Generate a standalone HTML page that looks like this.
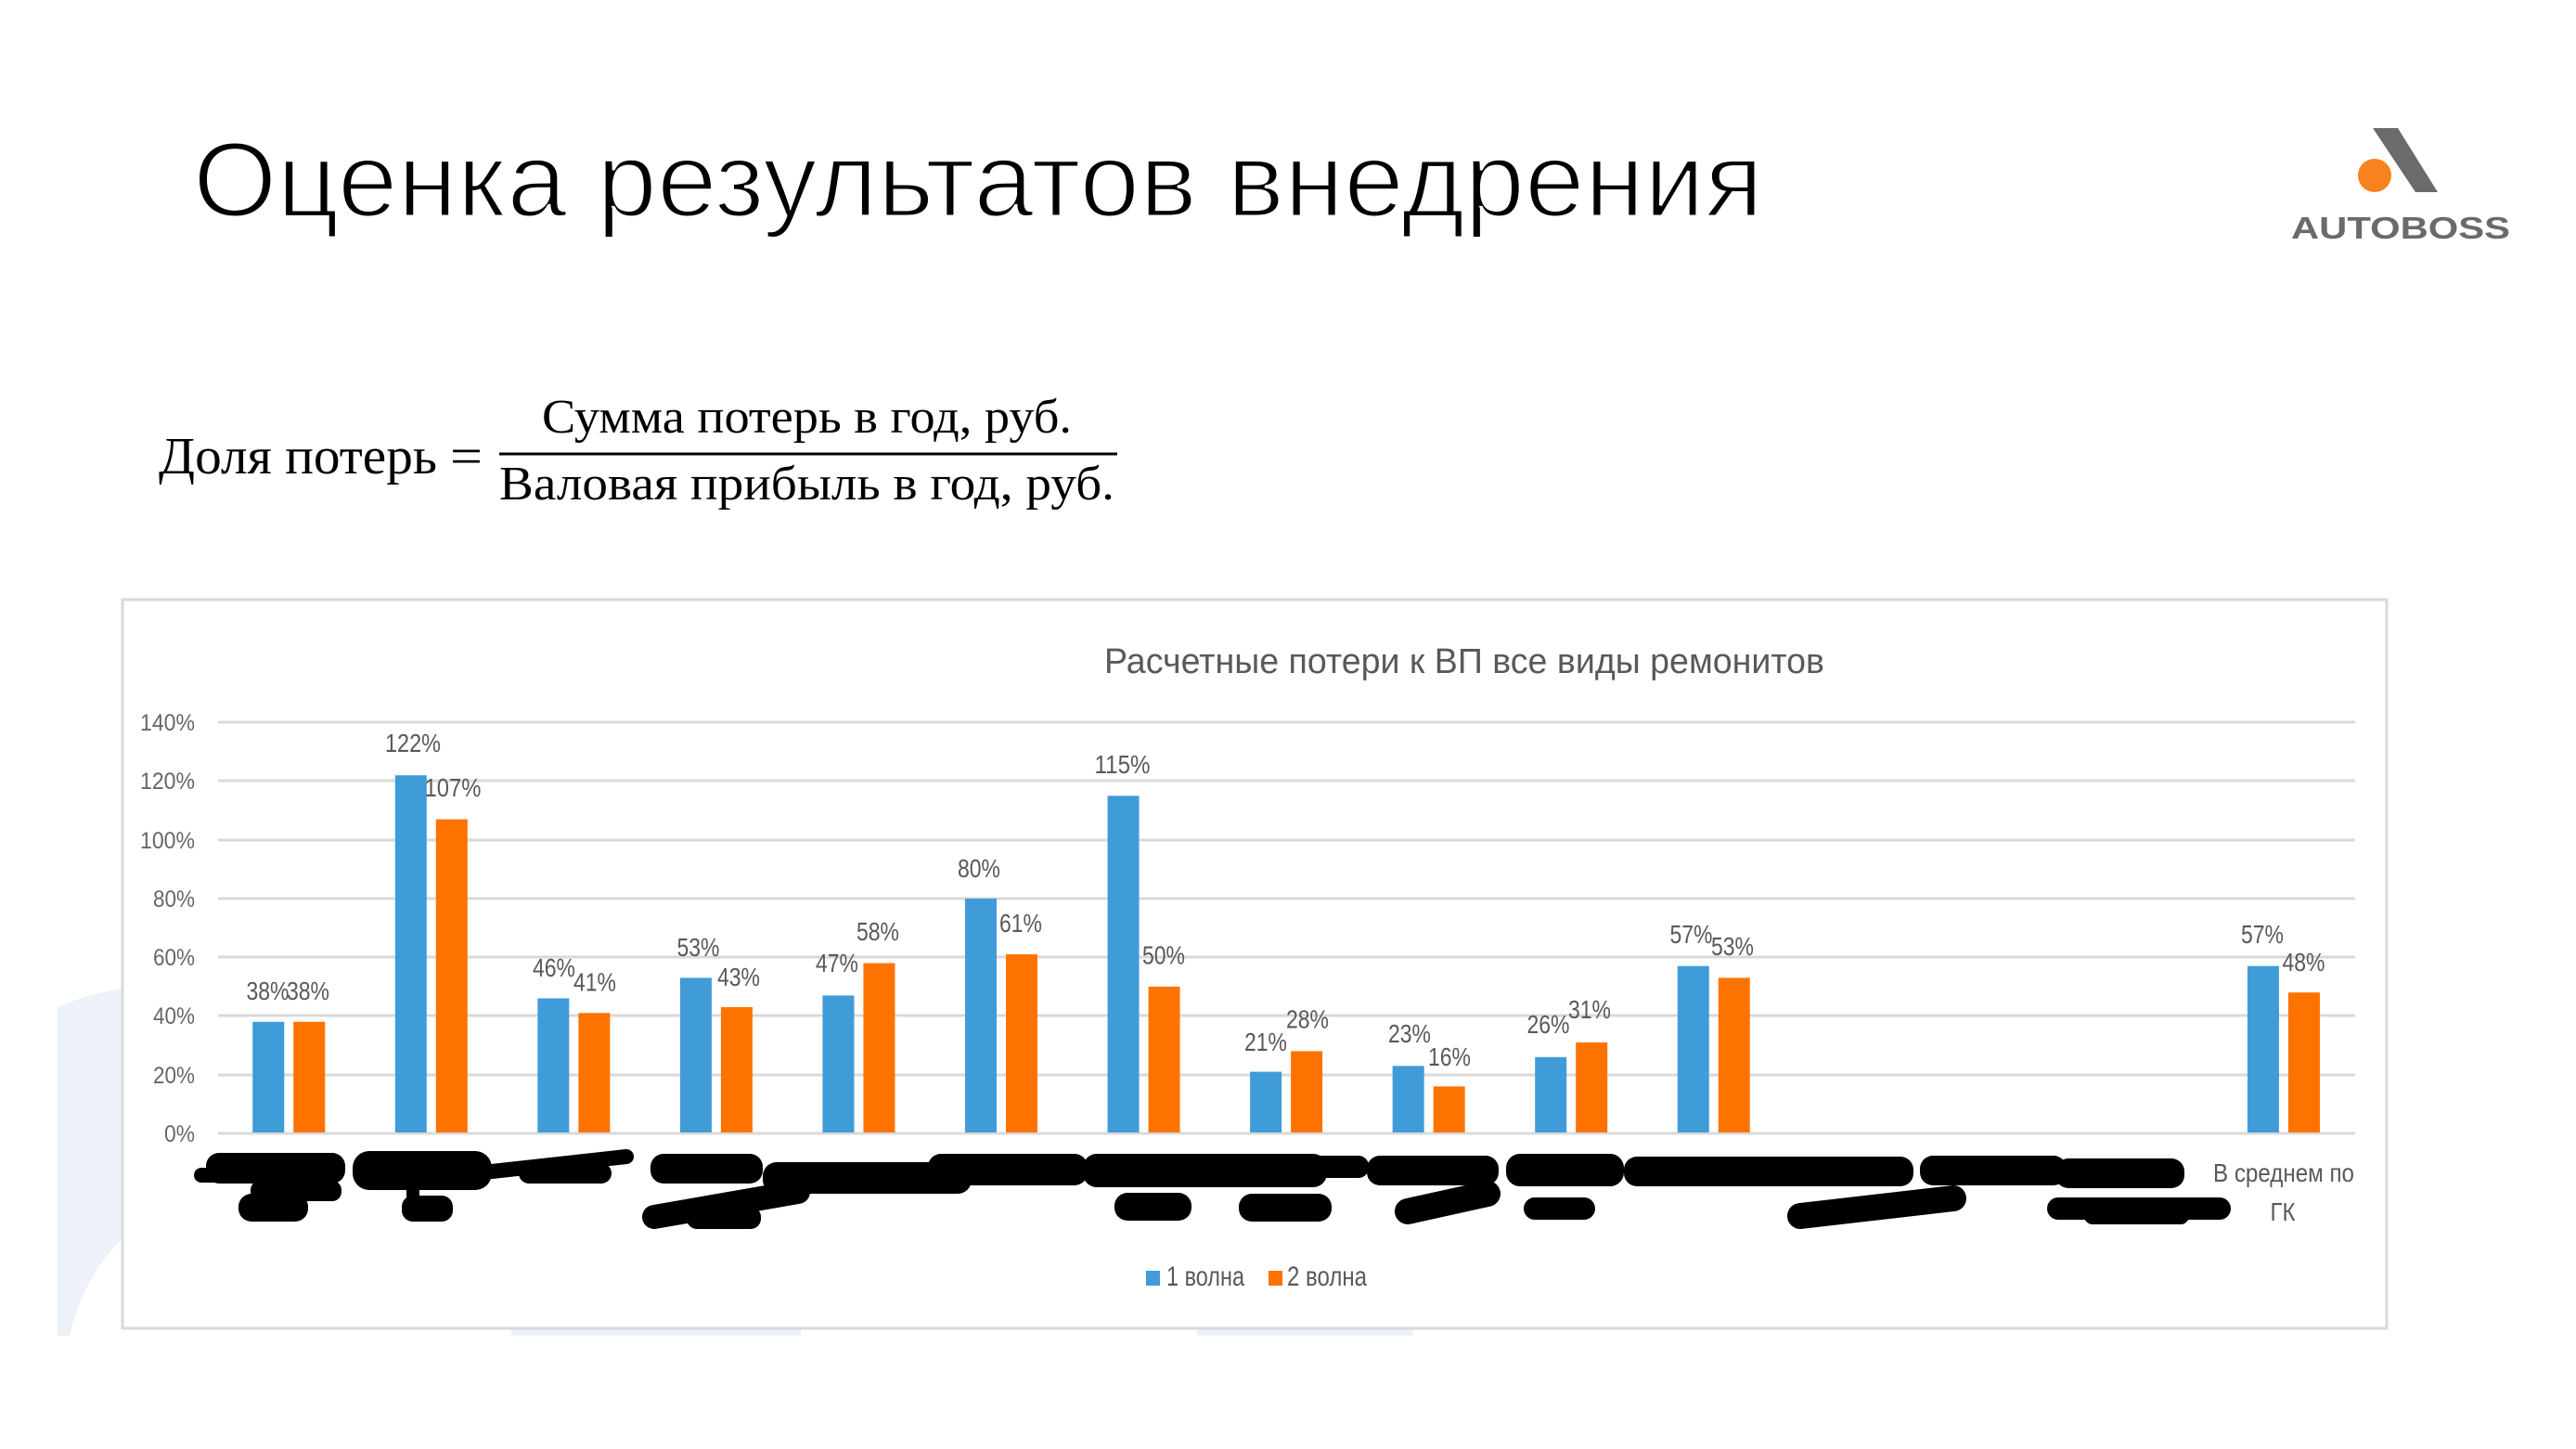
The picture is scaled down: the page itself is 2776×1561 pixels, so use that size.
<!DOCTYPE html>
<html>
<head>
<meta charset="utf-8">
<style>
  html, body { margin: 0; padding: 0; background: #ffffff; }
  body { width: 2776px; height: 1561px; overflow: hidden; }
  svg { display: block; }
  .sans { font-family: "Liberation Sans", "DejaVu Sans", sans-serif; }
  .serif { font-family: "Liberation Serif", "DejaVu Serif", serif; }
  .lbl { font-family: "Liberation Sans", "DejaVu Sans", sans-serif; font-size: 28px; fill: #595959; }
  .ax { font-family: "Liberation Sans", "DejaVu Sans", sans-serif; font-size: 25px; fill: #666666; text-anchor: end; }
</style>
</head>
<body>
<svg width="2776" height="1561" viewBox="0 0 2776 1561" xmlns="http://www.w3.org/2000/svg">
  <rect x="0" y="0" width="2776" height="1561" fill="#ffffff"/>

  <!-- background decoration -->
  <path d="M62,1439 L62,1086 Q92,1070 140,1064 L140,1327 Q92,1368 75,1439 Z" fill="#edf2f9"/>
  <rect x="551" y="1428" width="312" height="11" fill="#edf2f9"/>
  <rect x="1290" y="1428" width="233" height="11" fill="#edf2f9"/>

  <!-- Title -->
  <text class="sans" x="208" y="233" font-size="114" fill="#000000" stroke="#ffffff" stroke-width="3" textLength="1692" lengthAdjust="spacingAndGlyphs">Оценка результатов внедрения</text>

  <!-- Logo -->
  <polygon points="2557,138 2584,138 2627,207 2603,207" fill="#6b6b6b"/>
  <circle cx="2559" cy="189" r="18" fill="#f7821e"/>
  <text class="sans" x="2469" y="257" font-size="33" font-weight="bold" fill="#6a6a6a" textLength="236" lengthAdjust="spacingAndGlyphs">AUTOBOSS</text>

  <!-- Formula -->
  <text class="serif" x="171" y="510" font-size="56" fill="#000" textLength="300" lengthAdjust="spacingAndGlyphs">Доля потерь</text>
  <text class="serif" x="485" y="510" font-size="56" fill="#000" textLength="35" lengthAdjust="spacingAndGlyphs">=</text>
  <text class="serif" x="584" y="466" font-size="52" fill="#000" textLength="571" lengthAdjust="spacingAndGlyphs">Сумма потерь в год, руб.</text>
  <rect x="538" y="487.5" width="666" height="3" fill="#000"/>
  <text class="serif" x="538" y="538" font-size="52" fill="#000" textLength="663" lengthAdjust="spacingAndGlyphs">Валовая прибыль в год, руб.</text>

  <!-- Chart box -->
  <rect x="132" y="646" width="2440" height="785" fill="#ffffff" stroke="#d9d9d9" stroke-width="3"/>

  <!-- Chart title -->
  <text class="sans" x="1190" y="725" font-size="38" fill="#595959" textLength="776" lengthAdjust="spacingAndGlyphs">Расчетные потери к ВП все виды ремонитов</text>

  <!-- gridlines -->
  <g stroke="#d9d9d9" stroke-width="3">
    <line x1="235" y1="778" x2="2538" y2="778"/>
    <line x1="235" y1="841" x2="2538" y2="841"/>
    <line x1="235" y1="905" x2="2538" y2="905"/>
    <line x1="235" y1="968" x2="2538" y2="968"/>
    <line x1="235" y1="1031" x2="2538" y2="1031"/>
    <line x1="235" y1="1094" x2="2538" y2="1094"/>
    <line x1="235" y1="1158" x2="2538" y2="1158"/>
    <line x1="235" y1="1221" x2="2538" y2="1221"/>
  </g>

  <!-- y axis labels -->
  <text class="ax" x="210" y="787" textLength="59" lengthAdjust="spacingAndGlyphs">140%</text>
  <text class="ax" x="210" y="850" textLength="59" lengthAdjust="spacingAndGlyphs">120%</text>
  <text class="ax" x="210" y="914" textLength="59" lengthAdjust="spacingAndGlyphs">100%</text>
  <text class="ax" x="210" y="977" textLength="45" lengthAdjust="spacingAndGlyphs">80%</text>
  <text class="ax" x="210" y="1040" textLength="45" lengthAdjust="spacingAndGlyphs">60%</text>
  <text class="ax" x="210" y="1103" textLength="45" lengthAdjust="spacingAndGlyphs">40%</text>
  <text class="ax" x="210" y="1167" textLength="45" lengthAdjust="spacingAndGlyphs">20%</text>
  <text class="ax" x="210" y="1230" textLength="33" lengthAdjust="spacingAndGlyphs">0%</text>

  <!-- bars: blue -->
  <g fill="#409cd9">
    <rect x="272.25" y="1100.8" width="34" height="119.2"/>
    <rect x="425.8" y="835.2" width="34" height="384.8"/>
    <rect x="579.35" y="1075.5" width="34" height="144.5"/>
    <rect x="732.9" y="1053.4" width="34" height="166.6"/>
    <rect x="886.45" y="1072.4" width="34" height="147.6"/>
    <rect x="1040" y="968" width="34" height="252"/>
    <rect x="1193.55" y="857.3" width="34" height="362.7"/>
    <rect x="1347.1" y="1154.6" width="34" height="65.4"/>
    <rect x="1500.65" y="1148.3" width="34" height="71.7"/>
    <rect x="1654.2" y="1138.8" width="34" height="81.2"/>
    <rect x="1807.75" y="1040.7" width="34" height="179.3"/>
    <rect x="2421.95" y="1040.7" width="34" height="179.3"/>
  </g>
  <!-- bars: orange -->
  <g fill="#fe7300">
    <rect x="316.25" y="1100.8" width="34" height="119.2"/>
    <rect x="469.8" y="882.6" width="34" height="337.4"/>
    <rect x="623.35" y="1091.3" width="34" height="128.7"/>
    <rect x="776.9" y="1085" width="34" height="135"/>
    <rect x="930.45" y="1037.6" width="34" height="182.4"/>
    <rect x="1084" y="1028.1" width="34" height="191.9"/>
    <rect x="1237.55" y="1062.9" width="34" height="157.1"/>
    <rect x="1391.1" y="1132.4" width="34" height="87.6"/>
    <rect x="1544.65" y="1170.4" width="34" height="49.6"/>
    <rect x="1698.2" y="1123" width="34" height="97"/>
    <rect x="1851.75" y="1053.4" width="34" height="166.6"/>
    <rect x="2465.95" y="1069.2" width="34" height="150.8"/>
  </g>

  <!-- value labels -->
  <g class="lbl" text-anchor="middle">
    <text x="288.5" y="1077" textLength="46" lengthAdjust="spacingAndGlyphs">38%</text>
    <text x="332" y="1077" textLength="46" lengthAdjust="spacingAndGlyphs">38%</text>
    <text x="445" y="810" textLength="60" lengthAdjust="spacingAndGlyphs">122%</text>
    <text x="488" y="858" textLength="61" lengthAdjust="spacingAndGlyphs">107%</text>
    <text x="597" y="1052" textLength="46" lengthAdjust="spacingAndGlyphs">46%</text>
    <text x="641" y="1067.5" textLength="46" lengthAdjust="spacingAndGlyphs">41%</text>
    <text x="752.5" y="1030" textLength="46" lengthAdjust="spacingAndGlyphs">53%</text>
    <text x="796" y="1062" textLength="46" lengthAdjust="spacingAndGlyphs">43%</text>
    <text x="902" y="1047" textLength="46" lengthAdjust="spacingAndGlyphs">47%</text>
    <text x="946" y="1013" textLength="46" lengthAdjust="spacingAndGlyphs">58%</text>
    <text x="1055" y="945" textLength="46" lengthAdjust="spacingAndGlyphs">80%</text>
    <text x="1100" y="1004" textLength="46" lengthAdjust="spacingAndGlyphs">61%</text>
    <text x="1209.5" y="833" textLength="60" lengthAdjust="spacingAndGlyphs">115%</text>
    <text x="1254" y="1038.5" textLength="46" lengthAdjust="spacingAndGlyphs">50%</text>
    <text x="1364" y="1132" textLength="46" lengthAdjust="spacingAndGlyphs">21%</text>
    <text x="1409" y="1107.5" textLength="46" lengthAdjust="spacingAndGlyphs">28%</text>
    <text x="1519" y="1123" textLength="46" lengthAdjust="spacingAndGlyphs">23%</text>
    <text x="1562" y="1148" textLength="46" lengthAdjust="spacingAndGlyphs">16%</text>
    <text x="1668.5" y="1113" textLength="46" lengthAdjust="spacingAndGlyphs">26%</text>
    <text x="1713" y="1097" textLength="46" lengthAdjust="spacingAndGlyphs">31%</text>
    <text x="1822.5" y="1016" textLength="46" lengthAdjust="spacingAndGlyphs">57%</text>
    <text x="1867" y="1029" textLength="46" lengthAdjust="spacingAndGlyphs">53%</text>
    <text x="2438" y="1016" textLength="46" lengthAdjust="spacingAndGlyphs">57%</text>
    <text x="2482.5" y="1046" textLength="46" lengthAdjust="spacingAndGlyphs">48%</text>
  </g>

  <!-- redacted category labels (black scribbles) -->
  <g fill="#000000">
    <!-- row 1 -->
    <rect x="222" y="1242" width="150" height="33" rx="14"/>
    <rect x="209" y="1258" width="60" height="16" rx="8"/>
    <rect x="380" y="1240" width="150" height="42" rx="18"/>
    <rect x="559" y="1253" width="100" height="22" rx="11"/>
    <rect x="701" y="1243" width="121" height="32" rx="14"/>
    <rect x="822" y="1252" width="225" height="34" rx="15"/>
    <rect x="1000" y="1243" width="172" height="34" rx="14"/>
    <rect x="1167" y="1243" width="263" height="36" rx="15"/>
    <rect x="1400" y="1245" width="75" height="24" rx="11"/>
    <rect x="1473" y="1245" width="142" height="32" rx="14"/>
    <rect x="1623" y="1243" width="127" height="35" rx="15"/>
    <rect x="1750" y="1246" width="312" height="32" rx="14"/>
    <rect x="2069" y="1245" width="158" height="32" rx="14"/>
    <rect x="2215" y="1248" width="139" height="32" rx="14"/>
    <!-- row 2 -->
    <rect x="270" y="1272" width="98" height="22" rx="10"/>
    <rect x="257" y="1286" width="75" height="30" rx="14"/>
    <rect x="438" y="1272" width="14" height="22" rx="6"/>
    <rect x="433" y="1288" width="55" height="28" rx="12"/>
    <rect x="740" y="1300" width="80" height="24" rx="11"/>
    <rect x="1201" y="1285" width="83" height="30" rx="14"/>
    <rect x="1335" y="1286" width="100" height="30" rx="14"/>
    <rect x="1642" y="1290" width="77" height="24" rx="12"/>
  </g>
  <g stroke="#000000" stroke-linecap="round" fill="none">
    <line x1="530" y1="1262" x2="675" y2="1246" stroke-width="16"/>
    <line x1="705" y1="1311" x2="860" y2="1284" stroke-width="26"/>
    <line x1="1517" y1="1305" x2="1603" y2="1286" stroke-width="28"/>
    <line x1="1940" y1="1310" x2="2105" y2="1291" stroke-width="28"/>
    <line x1="2218" y1="1302" x2="2392" y2="1302" stroke-width="24"/>
    <line x1="2255" y1="1310" x2="2350" y2="1310" stroke-width="18"/>
  </g>

  <!-- last category label -->
  <text class="sans" x="2461" y="1273" font-size="28" fill="#595959" text-anchor="middle" textLength="152" lengthAdjust="spacingAndGlyphs">В среднем по</text>
  <text class="sans" x="2460" y="1315" font-size="28" fill="#595959" text-anchor="middle" textLength="27" lengthAdjust="spacingAndGlyphs">ГК</text>

  <!-- legend -->
  <rect x="1235" y="1369" width="15" height="16" fill="#409cd9"/>
  <text class="sans" x="1257" y="1385" font-size="30" fill="#595959" textLength="84" lengthAdjust="spacingAndGlyphs">1 волна</text>
  <rect x="1367" y="1369" width="15" height="16" fill="#fe7300"/>
  <text class="sans" x="1387" y="1385" font-size="30" fill="#595959" textLength="86" lengthAdjust="spacingAndGlyphs">2 волна</text>
</svg>
</body>
</html>
